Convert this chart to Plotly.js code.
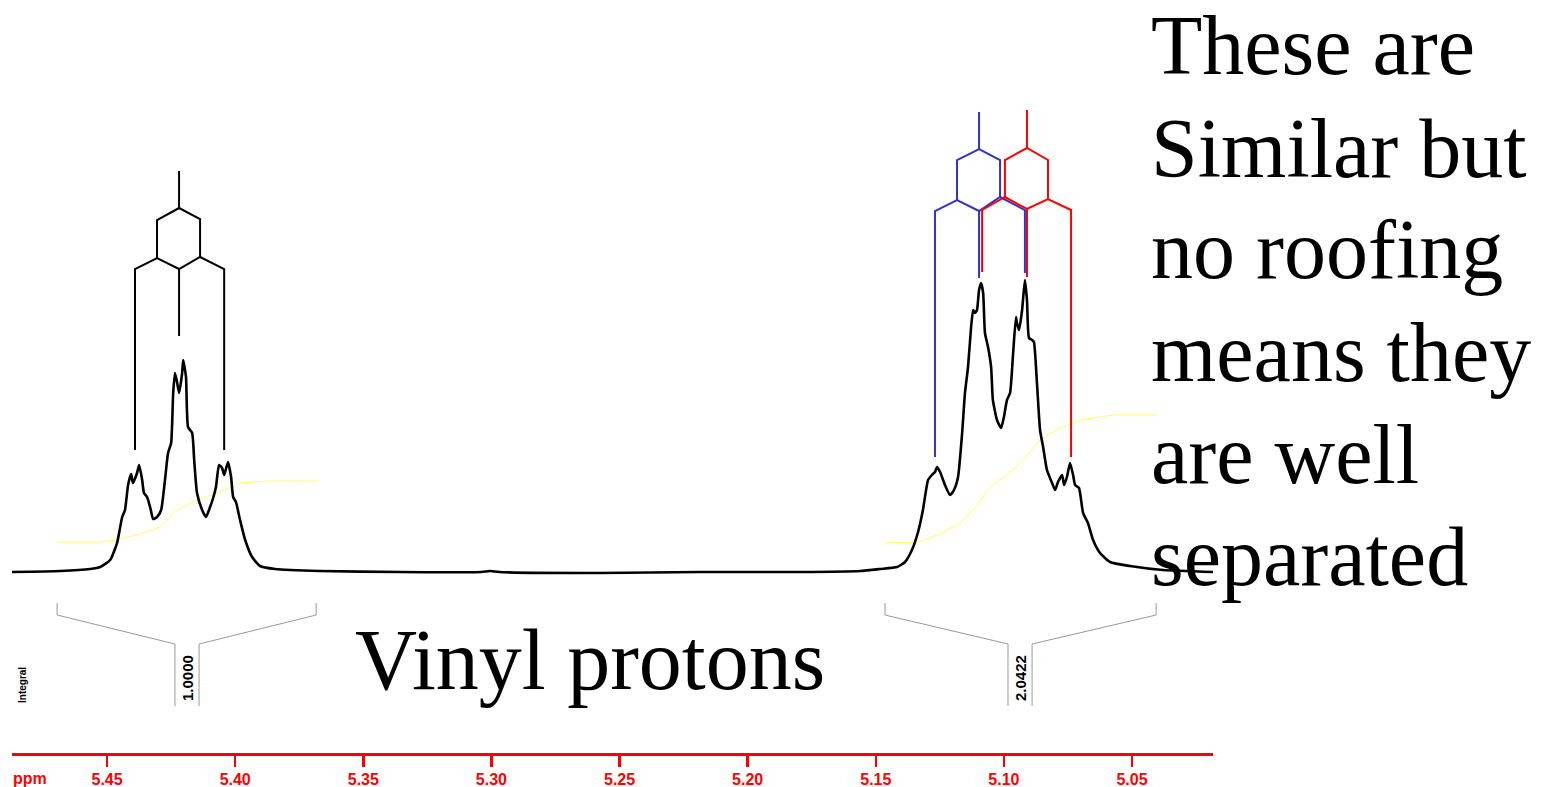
<!DOCTYPE html>
<html>
<head>
<meta charset="utf-8">
<script src="https://cdn.plot.ly/plotly-3.0.1.min.js"></script>
<style>html,body{margin:0;padding:0;background:#fff;}#chart{width:1542px;height:787px;}</style>
</head>
<body>
<div id="chart"></div>
<script>
// ---- spectrum (ppm, intensity in arbitrary units above baseline) ----
const specPpm = [5.4871,5.4683,5.4566,5.4527,5.4488,5.4461,5.4441,5.4430,5.4418,5.4406,5.4399,5.4383,5.4375,5.4363,5.4356,5.4344,5.4332,5.4320,5.4305,5.4289,5.4274,5.4262,5.4250,5.4242,5.4235,5.4227,5.4219,5.4207,5.4203,5.4192,5.4184,5.4168,5.4160,5.4149,5.4129,5.4114,5.4098,5.4086,5.4075,5.4063,5.4051,5.4043,5.4028,5.4016,5.4008,5.3997,5.3981,5.3961,5.3934,5.3903,5.3844,5.3669,5.3357,5.3040,5.3005,5.2970,5.2576,5.2186,5.1796,5.1562,5.1484,
5.1417,5.1386,5.1359,5.1335,5.1316,5.1296,5.1281,5.1269,5.1261,5.1249,5.1230,5.1210,5.1195,5.1179,5.1163,5.1152,5.1140,5.1128,5.1120,5.1113,5.1105,5.1097,5.1089,5.1081,5.1074,5.1062,5.1050,5.1043,5.1027,5.1011,5.1000,5.0988,5.0976,5.0964,5.0953,5.0949,5.0941,5.0929,5.0918,5.0910,5.0902,5.0890,5.0883,5.0871,5.0859,5.0847,5.0832,5.0812,5.0800,5.0789,5.0773,5.0765,5.0754,5.0742,5.0730,5.0722,5.0707,5.0691,5.0672,5.0652,5.0625,5.0586,5.0508,5.0379,5.0184];
const specInt = [0,1,3,5,12,29,55,62,87,98,89,99,107,92,79,75,65,53,55,62,92,119,129,179,199,190,179,199,212,195,145,139,112,79,62,55,65,74,85,107,104,97,110,95,75,70,52,32,15,6,3,1,0,0,1,0,-1,0,0,1,3,
5,10,22,40,62,92,97,100,105,100,87,77,82,95,139,179,205,245,262,259,262,282,289,279,239,225,205,172,152,144,155,172,179,219,255,249,242,262,292,272,234,232,230,189,142,125,102,89,82,90,97,87,95,109,97,87,84,59,49,32,19,10,6,2,0];

// ---- integral curves ----
const intLeftPpm = [5.4691,5.4527,5.4449,5.4371,5.4293,5.4227,5.4149,5.4071,5.3981,5.3876,5.3677];
const intLeftVal = [30,30,33,38,45,62,72,79,89,91,91];
const intRightPpm = [5.1464,5.1339,5.1249,5.1171,5.1113,5.1054,5.0964,5.0918,5.0859,5.0781,5.0703,5.0574,5.0402];
const intRightVal = [29,30,38,49,64,85,102,114,132,144,152,157,157];

// ---- integral brackets and values ----
const bracketLeftPpm = [5.4695,5.4695,5.4235,5.4235,null,5.3684,5.3684,5.4141,5.4141];
const bracketRightPpm = [5.1464,5.1464,5.0984,5.0984,null,5.0406,5.0406,5.0890,5.0890];
const bracketLevels = [-31,-43,-72,-134,null,-31,-43,-72,-134];
const integralLabels = ["1.0000","2.0422"];
const integralLabelPpm = [5.4188,5.0937];
const integralLabelLevel = -106;

// ---- splitting trees ----
const treeBlackPpm = [5.4219,5.4219,null,5.4305,5.4305,5.4219,5.4137,5.4137,null,5.4391,5.4391,5.4305,5.4219,5.4137,5.4043,5.4043,null,5.4219,5.4219];
const treeBlackInt = [401,364,null,314,352,364,353,315,null,122,303,314,303,315,303,122,null,303,236];
const treeBluePpm = [5.1097,5.1097,null,5.1183,5.1183,5.1097,5.1015,5.1015,null,5.1269,5.1269,5.1183,5.1097,5.1015,5.0918,5.0918,null,5.1097,5.1097];
const treeBlueInt = [460,423,null,372,412,423,412,375,null,115,361,372,361,375,362,299,null,361,294];
const treeRedPpm = [5.0910,5.0910,null,5.0996,5.0996,5.0910,5.0828,5.0828,null,5.1085,5.1085,5.0996,5.0910,5.0828,5.0738,5.0738,null,5.0910,5.0910];
const treeRedInt = [462,424,null,375,412,424,412,373,null,300,362,375,363,373,362,115,null,363,295];

// ---- axis ----
const tickVals = [5.45,5.40,5.35,5.30,5.25,5.20,5.15,5.10,5.05];
const tickText = ["5.45","5.40","5.35","5.30","5.25","5.20","5.15","5.10","5.05"];

// ---- texts ----
const sideTextLines = ["These are","Similar but","no roofing","means they","are well","separated"];
const mainLabel = "Vinyl protons";

const W = 1542, H = 787, ML = 12, MR = 329, MT = 0, MB = 34;
const pw = W - ML - MR, ph = H - MT - MB;
const px = x => (x - ML) / pw;
const py = y => 1 - (y - MT) / ph;

const lineTrace = (x, y, color, width) => ({
  type: 'scatter', mode: 'lines', x: x, y: y, connectgaps: false,
  line: {color: color, width: width}, hoverinfo: 'skip', showlegend: false, cliponaxis: false
});

const traces = [
  lineTrace(intLeftPpm, intLeftVal, '#ffff66', 1),
  lineTrace(intRightPpm, intRightVal, '#ffff66', 1),
  lineTrace(bracketLeftPpm, bracketLevels, '#999999', 1),
  lineTrace(bracketRightPpm, bracketLevels, '#999999', 1),
  lineTrace(treeBlackPpm, treeBlackInt, '#000000', 2),
  lineTrace(treeBluePpm, treeBlueInt, '#3333cc', 2),
  lineTrace(treeRedPpm, treeRedInt, '#ff0000', 2),
  Object.assign(lineTrace(specPpm, specInt, '#000000', 2.6), {line: {color: '#000', width: 2.6, shape: 'spline', smoothing: 0.5}})
];

const sans = 'Liberation Sans, Arial, sans-serif';
const serif = 'Liberation Serif, Times New Roman, serif';
const annotations = [];
integralLabels.forEach((t, i) => annotations.push({
  x: integralLabelPpm[i], y: integralLabelLevel, xref: 'x', yref: 'y', text: t, showarrow: false,
  xanchor: 'center', yanchor: 'middle',
  textangle: -90, font: {family: sans, size: 15, color: '#000', weight: 'bold'}
}));
annotations.push({
  x: px(22), y: py(685), xref: 'paper', yref: 'paper', text: 'Integral', showarrow: false,
  xanchor: 'center', yanchor: 'middle',
  textangle: -90, font: {family: sans, size: 10, color: '#000', weight: 'bold'}
});
annotations.push({
  x: px(30), y: py(778), xref: 'paper', yref: 'paper', text: 'ppm', showarrow: false,
  xanchor: 'center', yanchor: 'middle',
  font: {family: sans, size: 16, color: '#ff0000', weight: 'bold'}
});
annotations.push({
  x: px(590), y: py(660), xref: 'paper', yref: 'paper', text: mainLabel, showarrow: false,
  xanchor: 'center', yanchor: 'middle',
  font: {family: serif, size: 86, color: '#000'}
});
sideTextLines.forEach((t, i) => annotations.push({
  x: px(1149), y: py(46 + i * 102), xref: 'paper', yref: 'paper', text: t, showarrow: false,
  xanchor: 'left', yanchor: 'middle',
  font: {family: serif, size: 84, color: '#000'}
}));

const layout = {
  width: W, height: H,
  margin: {l: ML, r: MR, t: MT, b: MB, pad: 0},
  paper_bgcolor: '#fff', plot_bgcolor: '#fff',
  showlegend: false,
  xaxis: {
    range: [5.4871, 5.0184], showgrid: false, zeroline: false,
    showline: true, linecolor: '#ff0000', linewidth: 2.5,
    ticks: 'outside', ticklen: 11, tickwidth: 2.5, tickcolor: '#ff0000',
    tickmode: 'array', tickvals: tickVals, ticktext: tickText,
    ticklabelstandoff: -1,
    tickfont: {family: sans, size: 16, color: '#ff0000', weight: 'bold'},
    fixedrange: true
  },
  yaxis: {range: [-181, 572], visible: false, showgrid: false, zeroline: false, fixedrange: true},
  annotations: annotations
};

Plotly.newPlot('chart', traces, layout, {displayModeBar: false, staticPlot: true});
</script>
</body>
</html>
